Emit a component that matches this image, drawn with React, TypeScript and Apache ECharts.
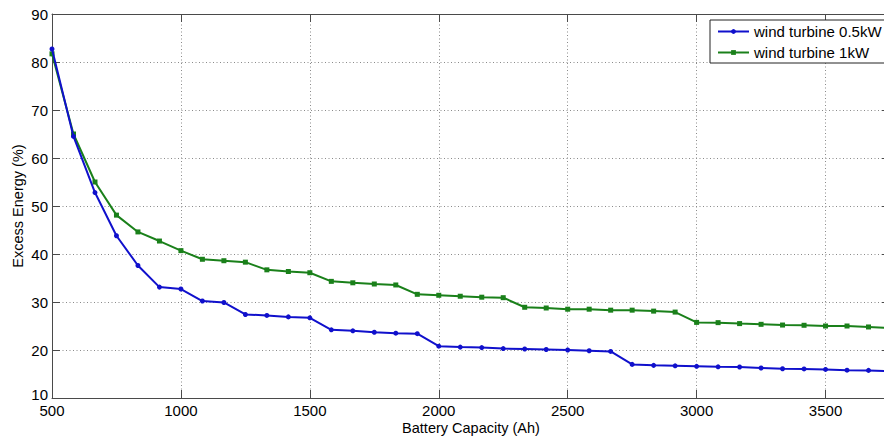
import React, { useEffect, useRef } from "react";
import * as echarts from "echarts";

// Battery capacity (Ah)
const capacity = [
  500, 583.3, 666.7, 750, 833.3, 916.7, 1000, 1083.3, 1166.7, 1250,
  1333.3, 1416.7, 1500, 1583.3, 1666.7, 1750, 1833.3, 1916.7, 2000, 2083.3,
  2166.7, 2250, 2333.3, 2416.7, 2500, 2583.3, 2666.7, 2750, 2833.3, 2916.7,
  3000, 3083.3, 3166.7, 3250, 3333.3, 3416.7, 3500, 3583.3, 3666.7, 3750,
];

// Excess energy (%) - wind turbine 0.5kW
const excess05 = [
  82.7, 64.5, 52.8, 43.8, 37.6, 33.1, 32.7, 30.2, 29.9, 27.4,
  27.2, 26.9, 26.7, 24.2, 24.0, 23.7, 23.5, 23.4, 20.8, 20.6,
  20.5, 20.3, 20.2, 20.1, 20.0, 19.85, 19.7, 17.0, 16.8, 16.7,
  16.6, 16.5, 16.45, 16.25, 16.1, 16.05, 15.95, 15.8, 15.75, 15.6,
];

// Excess energy (%) - wind turbine 1kW
const excess1 = [
  81.7, 65.0, 55.0, 48.1, 44.6, 42.7, 40.7, 38.9, 38.6, 38.3,
  36.7, 36.35, 36.1, 34.3, 34.0, 33.75, 33.55, 31.6, 31.4, 31.2,
  31.0, 30.9, 28.9, 28.75, 28.5, 28.5, 28.3, 28.3, 28.1, 27.9,
  25.75, 25.7, 25.5, 25.35, 25.2, 25.15, 25.0, 25.0, 24.8, 24.6,
];

const seriesNames = ["wind turbine 0.5kW", "wind turbine 1kW"];

const FONT = "'Liberation Sans', Arial, Helvetica, sans-serif";
const AXIS_COLOR = "#4a4a4a";

export default function App() {
  const ref = useRef<HTMLDivElement>(null);

  useEffect(() => {
    document.body.style.margin = "0";
    if (!ref.current) return;
    const chart = echarts.init(ref.current, undefined, { renderer: "svg" });

    const pair = (ys: number[]) => capacity.map((x, i) => [x, ys[i]]);

    const axisLine = { show: true, lineStyle: { color: AXIS_COLOR, width: 1 } };
    const axisTick = { show: true, inside: true, length: 8, lineStyle: { color: AXIS_COLOR } };
    const splitLine = {
      show: true,
      lineStyle: { color: "#8a8a8a", width: 1, type: [1, 2.5] as any },
    };

    chart.setOption({
      animation: false,
      backgroundColor: "#ffffff",
      textStyle: { fontFamily: FONT },
      grid: {
        left: 52,
        top: 14,
        right: -6,
        bottom: 40,
        containLabel: false,
        outerBoundsMode: "none",
      },
      legend: {
        show: true,
        left: 710,
        top: 20,
        orient: "vertical",
        align: "left",
        data: seriesNames,
        itemWidth: 31,
        itemHeight: 6,
        itemGap: 4,
        padding: [3, 16, 2, 7],
        borderColor: "#222",
        borderWidth: 1,
        backgroundColor: "#fff",
        textStyle: { fontFamily: FONT, fontSize: 15, color: "#000", lineHeight: 17 },
      },
      xAxis: [
        {
          type: "value",
          min: 500,
          max: 3750,
          interval: 500,
          position: "bottom",
          name: "Battery Capacity (Ah)",
          nameLocation: "middle",
          nameGap: 22,
          nameMoveOverlap: false,
          nameTextStyle: { fontFamily: FONT, fontSize: 14.5, color: "#000" },
          axisLine,
          axisTick,
          axisLabel: {
            fontFamily: FONT,
            fontSize: 15,
            color: "#000",
            margin: 5,
            showMaxLabel: false,
            hideOverlap: false,
            formatter: (v: number) => String(v),
          },
          splitLine,
        },
        {
          type: "value",
          min: 500,
          max: 3750,
          interval: 500,
          position: "top",
          axisLine,
          axisTick,
          axisLabel: { show: false },
          splitLine: { show: false },
        },
      ],
      yAxis: [
        {
          type: "value",
          min: 10,
          max: 90,
          interval: 10,
          position: "left",
          name: "Excess Energy (%)",
          nameLocation: "middle",
          nameGap: 27,
          nameMoveOverlap: false,
          nameTextStyle: { fontFamily: FONT, fontSize: 14.5, color: "#000" },
          axisLine,
          axisTick,
          axisLabel: {
            fontFamily: FONT,
            fontSize: 15,
            color: "#000",
            margin: 4,
            formatter: (v: number) => (v === 10 ? "{lo|10}" : String(v)),
            rich: { lo: { fontFamily: FONT, fontSize: 15, color: "#000", padding: [0, 0, 7, 0] } },
          },
          splitLine,
        },
        {
          type: "value",
          min: 10,
          max: 90,
          interval: 10,
          position: "right",
          axisLine,
          axisTick,
          axisLabel: { show: false },
          splitLine: { show: false },
        },
      ],
      series: [
        {
          name: seriesNames[0],
          type: "line",
          data: pair(excess05),
          symbol: "circle",
          symbolSize: 5,
          showSymbol: true,
          lineStyle: { color: "#1010cc", width: 2 },
          itemStyle: { color: "#1010cc" },
          z: 3,
        },
        {
          name: seriesNames[1],
          type: "line",
          data: pair(excess1),
          symbol: "rect",
          symbolSize: 5,
          showSymbol: true,
          lineStyle: { color: "#1a801a", width: 2 },
          itemStyle: { color: "#1a801a" },
          z: 2,
        },
      ],
    });

    return () => chart.dispose();
  }, []);

  return <div ref={ref} style={{ width: 884, height: 438 }} />;
}
